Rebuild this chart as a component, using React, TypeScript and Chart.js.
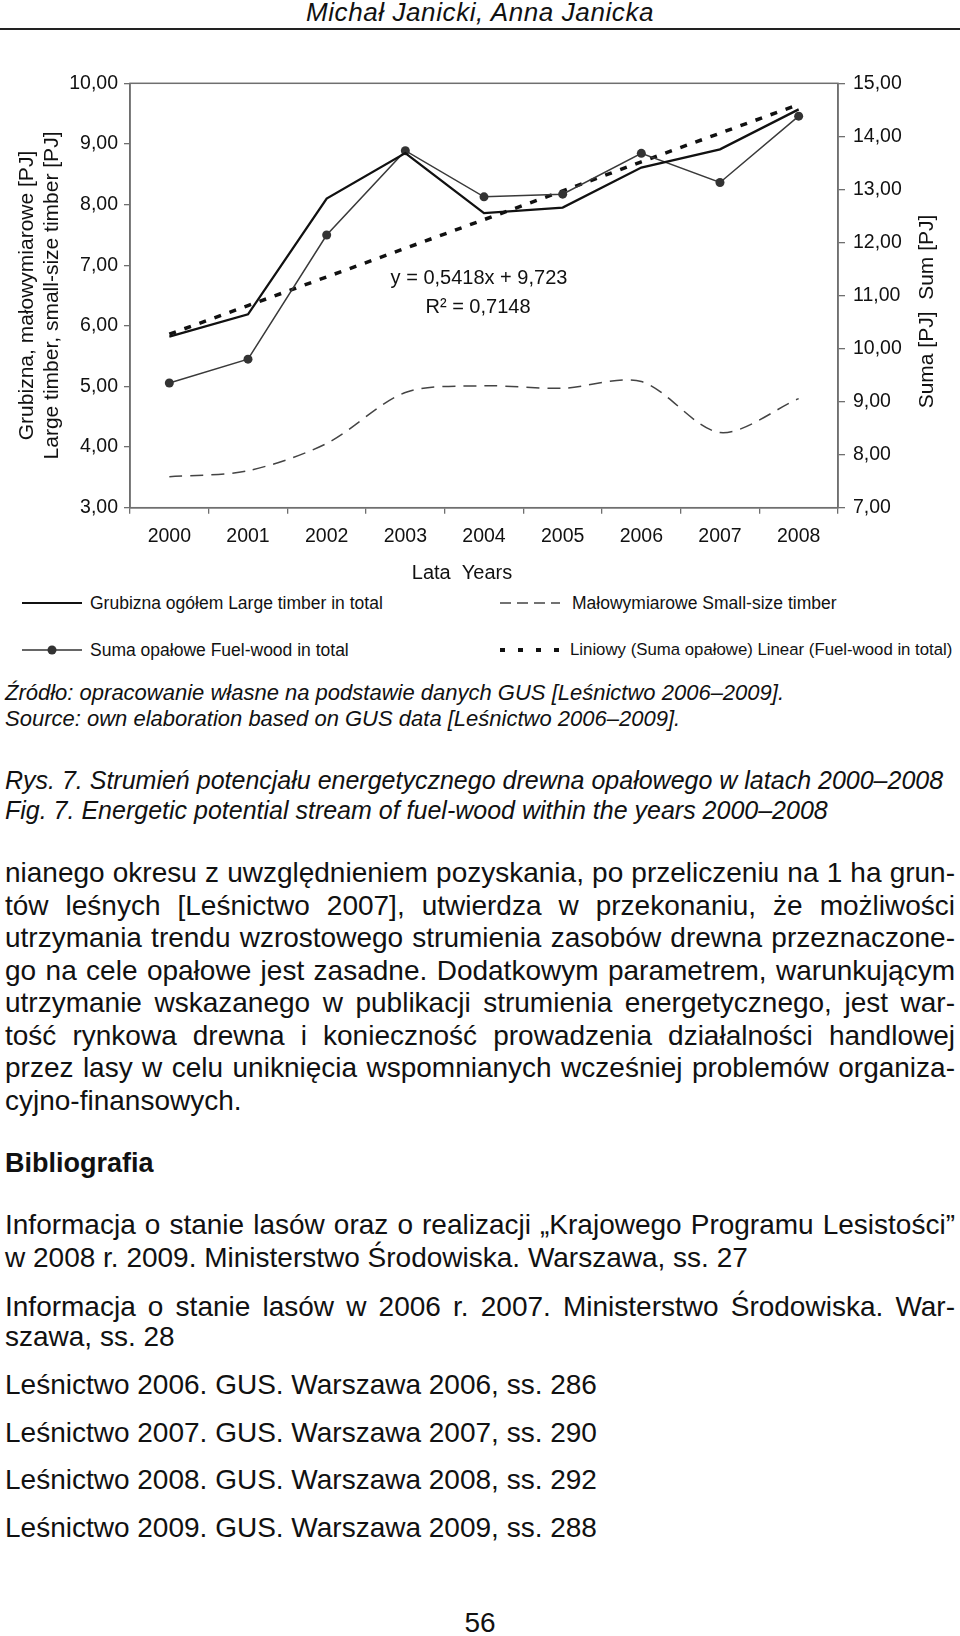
import { useEffect, useRef } from 'react';
import Chart from 'chart.js/auto';

const FONT = '"Liberation Sans", Arial, Helvetica, sans-serif';
const INK = '#111111';
const AXIS = '#6f6f6f';

// chart data
const YEARS = ['2000', '2001', '2002', '2003', '2004', '2005', '2006', '2007', '2008'];
const LARGE_TIMBER = [5.82, 6.19, 8.1, 8.85, 7.86, 7.95, 8.61, 8.91, 9.57];
const SMALL_TIMBER = [3.51, 3.61, 4.06, 4.9, 5.01, 4.97, 5.08, 4.24, 4.8];
const FUEL_WOOD_SUM = [9.35, 9.8, 12.14, 13.73, 12.86, 12.91, 13.68, 13.13, 14.38];
const FUEL_WOOD_TREND = [10.27, 10.81, 11.35, 11.89, 12.43, 12.97, 13.52, 14.06, 14.6];

const LEFT_MIN = 3;
const LEFT_MAX = 10;
const RIGHT_MIN = 7;
const RIGHT_MAX = 15;

const LEFT_TITLE = ['Grubizna, małowymiarowe [PJ]', 'Large timber, small-size timber [PJ]'];
const RIGHT_TITLE = 'Suma [PJ]  Sum [PJ]';
const X_TITLE = 'Lata  Years';
const TREND_EQUATION = 'y = 0,5418x + 9,723';
const TREND_R2 = 'R\u00B2 = 0,7148';

const LEGEND_LABELS = [
  'Grubizna ogółem Large timber in total',
  'Małowymiarowe Small-size timber',
  'Suma opałowe Fuel-wood in total',
  'Liniowy (Suma opałowe) Linear (Fuel-wood in total)',
];

const SOURCE_LINES = [
  'Źródło: opracowanie własne na podstawie danych GUS [Leśnictwo 2006–2009].',
  'Source: own elaboration based on GUS data [Leśnictwo 2006–2009].',
];
const CAPTION_LINES = [
  'Rys. 7. Strumień potencjału energetycznego drewna opałowego w latach 2000–2008',
  'Fig. 7. Energetic potential stream of fuel-wood within the years 2000–2008',
];
const BODY_LINES = [
  'nianego okresu z uwzględnieniem pozyskania, po przeliczeniu na 1 ha grun-',
  'tów leśnych [Leśnictwo 2007], utwierdza w przekonaniu, że możliwości',
  'utrzymania trendu wzrostowego strumienia zasobów drewna przeznaczone-',
  'go na cele opałowe jest zasadne. Dodatkowym parametrem, warunkującym',
  'utrzymanie wskazanego w publikacji strumienia energetycznego, jest war-',
  'tość rynkowa drewna i konieczność prowadzenia działalności handlowej',
  'przez lasy w celu uniknięcia wspomnianych wcześniej problemów organiza-',
  'cyjno-finansowych.',
];
const BIBLIOGRAPHY = [
  ['Informacja o stanie lasów oraz o realizacji „Krajowego Programu Lesistości”', 'w 2008 r. 2009. Ministerstwo Środowiska. Warszawa, ss. 27'],
  ['Informacja o stanie lasów w 2006 r. 2007. Ministerstwo Środowiska. War-', 'szawa, ss. 28'],
  ['Leśnictwo 2006. GUS. Warszawa 2006, ss. 286'],
  ['Leśnictwo 2007. GUS. Warszawa 2007, ss. 290'],
  ['Leśnictwo 2008. GUS. Warszawa 2008, ss. 292'],
  ['Leśnictwo 2009. GUS. Warszawa 2009, ss. 288'],
];

const fmt = (v: number | string) => Number(v).toFixed(2).replace('.', ',');

// frame, axis titles and trend equation
const extrasPlugin = {
  id: 'extras',
  afterDraw(chart: any) {
    const { ctx, chartArea: a } = chart;
    const cx = (a.left + a.right) / 2;
    const cy = (a.top + a.bottom) / 2;
    ctx.save();
    ctx.strokeStyle = AXIS;
    ctx.lineWidth = 1.5;
    ctx.strokeRect(a.left, a.top, a.right - a.left, a.bottom - a.top);

    ctx.fillStyle = INK;
    ctx.textAlign = 'center';
    ctx.textBaseline = 'middle';

    ctx.font = `20px ${FONT}`;
    ctx.fillText(TREND_EQUATION, cx - 5, a.top + 195);
    ctx.fillText(TREND_R2, cx - 6, a.top + 224);

    ctx.font = `20px ${FONT}`;
    ctx.fillText(X_TITLE, cx - 22, a.bottom + 66);

    ctx.font = `21px ${FONT}`;
    ctx.save();
    ctx.translate(a.left - 103, cy);
    ctx.rotate(-Math.PI / 2);
    ctx.fillText(LEFT_TITLE[0], 0, 0);
    ctx.fillText(LEFT_TITLE[1], 0, 25);
    ctx.restore();

    ctx.save();
    ctx.translate(a.right + 89, cy + 16);
    ctx.rotate(-Math.PI / 2);
    ctx.fillText(RIGHT_TITLE, 0, 0);
    ctx.restore();

    ctx.restore();
  },
};

function TextLine(props: {
  center: number;
  size: number;
  lh: number;
  text: string;
  italic?: boolean;
  bold?: boolean;
  justify?: boolean;
  left?: number;
  width?: number;
  align?: 'left' | 'center';
  spacing?: number;
}) {
  const { center, size, lh, text, italic, bold, justify, left = 5, width = 950, align = 'left', spacing = 0 } = props;
  return (
    <div
      style={{
        position: 'absolute',
        top: center - lh / 2,
        left,
        width,
        height: lh,
        lineHeight: `${lh}px`,
        fontSize: size,
        fontStyle: italic ? 'italic' : 'normal',
        fontWeight: bold ? 'bold' : 'normal',
        textAlign: justify ? 'justify' : align,
        textAlignLast: justify ? 'justify' : align,
        whiteSpace: justify ? 'normal' : 'nowrap',
        letterSpacing: spacing,
        color: INK,
        fontFamily: FONT,
      } as any}
    >
      {text}
    </div>
  );
}

function LegendSample({ kind, x, y }: { kind: string; x: number; y: number }) {
  return (
    <svg style={{ position: 'absolute', left: x, top: y - 8 }} width={62} height={16}>
      {kind === 'solid' && <line x1={1} y1={8} x2={61} y2={8} stroke={INK} strokeWidth={2} />}
      {kind === 'marker' && (
        <>
          <line x1={1} y1={8} x2={61} y2={8} stroke="#333" strokeWidth={1.5} />
          <circle cx={31} cy={8} r={4.5} fill="#333" />
        </>
      )}
      {kind === 'dash' && <line x1={1} y1={8} x2={61} y2={8} stroke="#444" strokeWidth={1.5} strokeDasharray="11 6" />}
      {kind === 'dot' && <line x1={1} y1={8} x2={61} y2={8} stroke={INK} strokeWidth={4} strokeDasharray="5 13" />}
    </svg>
  );
}

export default function App() {
  const canvasRef = useRef<HTMLCanvasElement | null>(null);

  useEffect(() => {
    document.body.style.margin = '0';
    const canvas = canvasRef.current;
    if (!canvas) return;

    const tickFont = { family: FONT, size: 19.5 };

    const chart = new Chart(canvas, {
      type: 'line',
      data: {
        labels: YEARS,
        datasets: [
          {
            label: LEGEND_LABELS[0],
            data: LARGE_TIMBER,
            borderColor: INK,
            borderWidth: 2.3,
            pointRadius: 0,
            tension: 0,
            yAxisID: 'y',
          },
          {
            label: LEGEND_LABELS[2],
            data: FUEL_WOOD_SUM,
            borderColor: '#3a3a3a',
            borderWidth: 1.5,
            pointRadius: 4.5,
            pointBackgroundColor: '#333',
            pointBorderWidth: 0,
            tension: 0,
            yAxisID: 'y1',
          },
          {
            label: LEGEND_LABELS[1],
            data: SMALL_TIMBER,
            borderColor: '#444',
            borderWidth: 1.5,
            borderDash: [13, 8],
            pointRadius: 0,
            tension: 0.3,
            yAxisID: 'y',
          },
          {
            label: LEGEND_LABELS[3],
            data: FUEL_WOOD_TREND,
            borderColor: INK,
            borderWidth: 3.5,
            borderDash: [7, 9],
            pointRadius: 0,
            tension: 0,
            yAxisID: 'y1',
          },
        ],
      },
      options: {
        animation: false,
        responsive: true,
        maintainAspectRatio: false,
        layout: { padding: { top: 83.3, left: 0, right: 0, bottom: 0 } },
        plugins: {
          legend: { display: false },
          tooltip: { enabled: false },
        },
        scales: {
          x: {
            offset: true,
            grid: {
              display: true,
              offset: true,
              drawOnChartArea: false,
              drawTicks: true,
              tickLength: 6,
              color: AXIS,
              lineWidth: 1.3,
            },
            border: { color: AXIS, width: 1.5 },
            ticks: { color: INK, font: tickFont, padding: 11, maxRotation: 0, autoSkip: false },
            afterFit: (scale: any) => {
              scale.height = 82.3;
            },
          },
          y: {
            position: 'left',
            min: LEFT_MIN,
            max: LEFT_MAX,
            grid: { drawOnChartArea: false, drawTicks: true, tickLength: 6, color: AXIS, lineWidth: 1.3 },
            border: { color: AXIS, width: 1.5 },
            ticks: { stepSize: 1, color: INK, font: tickFont, padding: 6, callback: (v: any) => fmt(v) },
            afterFit: (scale: any) => {
              scale.width = 130;
            },
          },
          y1: {
            position: 'right',
            min: RIGHT_MIN,
            max: RIGHT_MAX,
            grid: { drawOnChartArea: false, drawTicks: true, tickLength: 7, color: AXIS, lineWidth: 1.3 },
            border: { color: AXIS, width: 1.5 },
            ticks: { stepSize: 1, color: INK, font: tickFont, padding: 8, callback: (v: any) => fmt(v) },
            afterFit: (scale: any) => {
              scale.width = 122;
            },
          },
        },
      },
      plugins: [extrasPlugin],
    } as any);

    return () => {
      chart.destroy();
    };
  }, []);

  return (
    <div style={{ position: 'relative', width: 960, height: 1636, background: '#fff', overflow: 'hidden', fontFamily: FONT }}>
      <TextLine center={12} size={26} lh={30} text="Michał Janicki, Anna Janicka" italic align="center" left={0} width={960} spacing={0.6} />
      <div style={{ position: 'absolute', top: 28, left: 0, width: 960, height: 2, background: '#222' }} />

      <div style={{ position: 'absolute', top: 0, left: 0, width: 960, height: 590 }}>
        <canvas ref={canvasRef} />
      </div>

      <LegendSample kind="solid" x={21} y={603} />
      <TextLine center={603} size={17.5} lh={22} text={LEGEND_LABELS[0]} left={90} width={400} />
      <LegendSample kind="dash" x={499} y={603} />
      <TextLine center={603} size={17.5} lh={22} text={LEGEND_LABELS[1]} left={572} width={388} />
      <LegendSample kind="marker" x={21} y={650} />
      <TextLine center={650} size={17.5} lh={22} text={LEGEND_LABELS[2]} left={90} width={400} />
      <LegendSample kind="dot" x={499} y={650} />
      <TextLine center={650} size={16.8} lh={22} text={LEGEND_LABELS[3]} left={570} width={390} />

      {SOURCE_LINES.map((t, i) => (
        <TextLine key={'s' + i} center={693 + i * 26} size={22} lh={26} text={t} italic />
      ))}
      {CAPTION_LINES.map((t, i) => (
        <TextLine key={'c' + i} center={780 + i * 30} size={25} lh={30} text={t} italic />
      ))}
      {BODY_LINES.map((t, i) => (
        <TextLine key={'b' + i} center={873 + i * 32.5} size={28} lh={32} text={t} justify={i < BODY_LINES.length - 1} />
      ))}

      <TextLine center={1163} size={27} lh={32} text="Bibliografia" bold />

      {(() => {
        const centers = [[1225, 1258], [1307, 1337], [1385], [1433], [1480], [1528]];
        return BIBLIOGRAPHY.flatMap((entry, i) =>
          entry.map((t, j) => (
            <TextLine
              key={'r' + i + '-' + j}
              center={centers[i][j]}
              size={28}
              lh={32}
              text={t}
              justify={entry.length > 1 && j === 0}
            />
          ))
        );
      })()}

      <TextLine center={1623} size={28} lh={32} text="56" align="center" left={0} width={960} />
    </div>
  );
}
